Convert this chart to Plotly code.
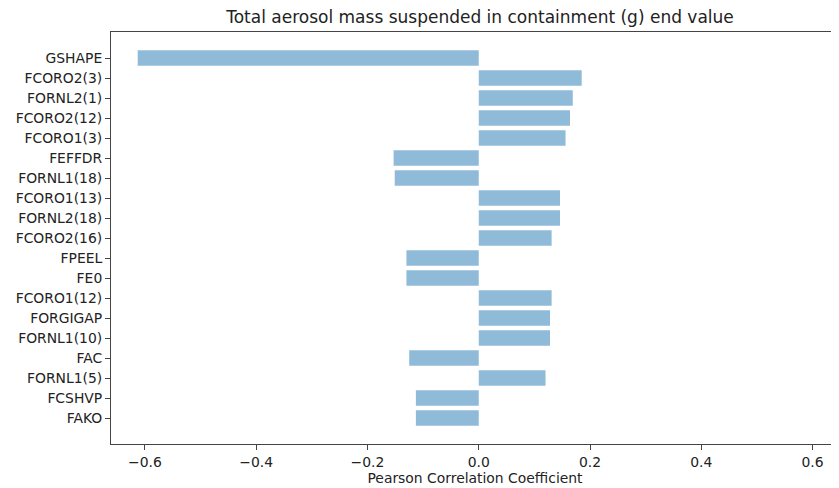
import plotly.graph_objects as go

categories = ["GSHAPE", "FCORO2(3)", "FORNL2(1)", "FCORO2(12)", "FCORO1(3)", "FEFFDR",
              "FORNL1(18)", "FCORO1(13)", "FORNL2(18)", "FCORO2(16)", "FPEEL", "FE0",
              "FCORO1(12)", "FORGIGAP", "FORNL1(10)", "FAC", "FORNL1(5)", "FCSHVP", "FAKO"]
values = [-0.613, 0.185, 0.169, 0.164, 0.156, -0.153,
          -0.151, 0.146, 0.146, 0.131, -0.130, -0.130,
          0.131, 0.128, 0.128, -0.125, 0.120, -0.113, -0.113]
x_ticks = [-0.6, -0.4, -0.2, 0.0, 0.2, 0.4, 0.6]
x_tick_labels = ["\u22120.6", "\u22120.4", "\u22120.2", "0.0", "0.2", "0.4", "0.6"]

W, H = 831, 480
fig = go.Figure(go.Bar(
    x=values, y=categories, orientation="h",
    marker=dict(color="rgba(31,119,180,0.5)", line=dict(width=0)),
    width=0.78,
))

fig.update_layout(
    width=W, height=H,
    margin=dict(l=103, r=0, t=24, b=44),
    paper_bgcolor="white", plot_bgcolor="white",
    font=dict(family="DejaVu Sans", size=13.9, color="#222"),
    showlegend=False,
    title=dict(text="Total aerosol mass suspended in containment (g) end value",
               x=472 / W, xanchor="center", y=1 - 9.5 / H, yanchor="middle",
               font=dict(size=17, color="#222")),
)
fig.update_xaxes(
    range=[-0.661, 0.6475],
    tickvals=x_ticks, ticktext=x_tick_labels,
    ticks="outside", ticklen=5, tickcolor="#444",
    showline=True, linecolor="#444", linewidth=1, mirror=True,
    showgrid=False, zeroline=False,
    title=dict(text="Pearson Correlation Coefficient", font=dict(size=13.9), standoff=2),
)
fig.update_yaxes(
    type="category", categoryorder="array", categoryarray=categories,
    range=[18 + 1.3, -1.3],
    ticks="outside", ticklen=5, tickcolor="#444",
    showline=True, linecolor="#444", linewidth=1,
    showgrid=False, zeroline=False,
)

fig.write_html("out.html")
